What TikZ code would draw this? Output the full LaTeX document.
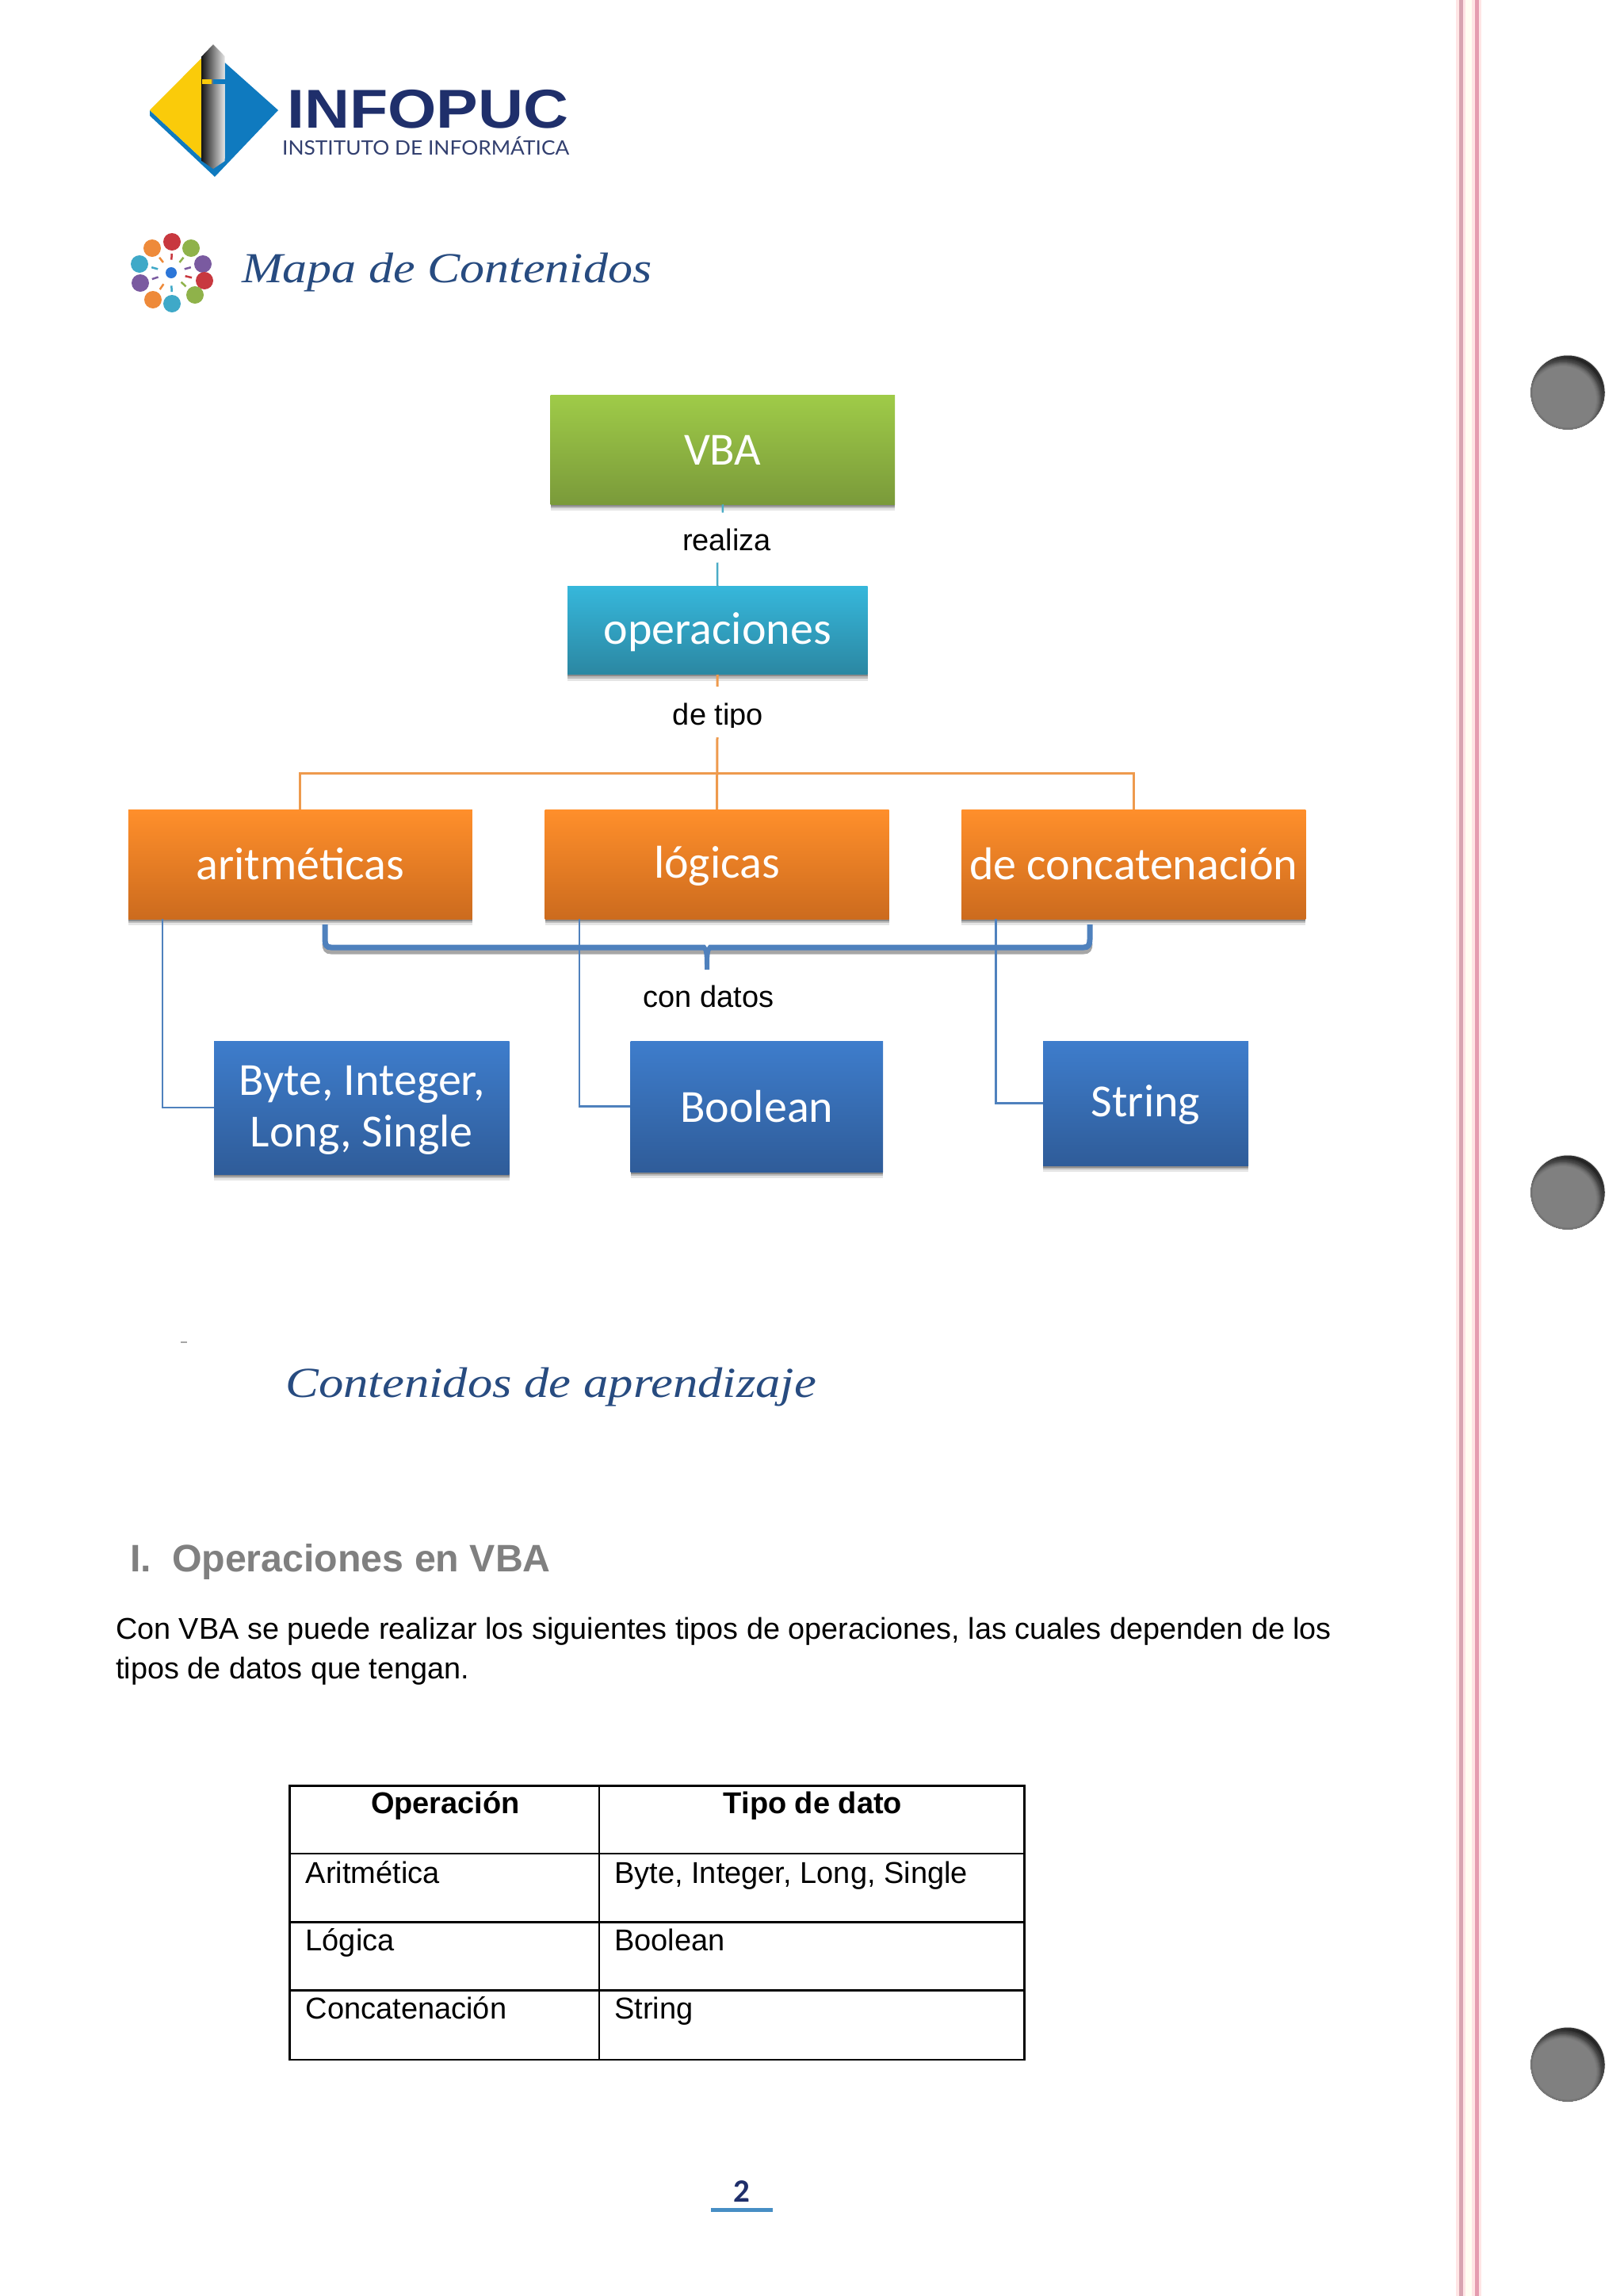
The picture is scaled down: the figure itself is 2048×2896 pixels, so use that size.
\documentclass[tikz,border=0pt]{standalone}
\usepackage{fontspec}
\usepackage{graphicx}
\setmainfont{Liberation Sans}
\newfontfamily\calib{Carlito}
\newfontfamily\lato{Lato}
\newfontfamily\titlef{Liberation Serif}
\newcommand{\fs}[1]{\fontsize{#1}{#1}\selectfont}
\newcommand{\fitw}[2]{\resizebox{#1}{\height}{#2}}
\newcommand{\bt}[1]{\rule{0pt}{44pt}#1\rule[-5pt]{0pt}{5pt}}
\definecolor{titleblue}{HTML}{274B80}
\definecolor{logonavy}{HTML}{1F2F6B}
\definecolor{logoblue}{HTML}{0F7ABF}
\definecolor{logoyellow}{HTML}{FACB0A}
\definecolor{lineblue}{HTML}{4F81BD}
\definecolor{lineorange}{HTML}{EE9A4D}
\definecolor{lineteal}{HTML}{4BACC6}
\definecolor{marginA}{HTML}{D8A4B0}
\definecolor{marginB}{HTML}{E59DB0}
\definecolor{VBAtop}{HTML}{9FCB48}
\definecolor{VBAbot}{HTML}{7A9A3A}
\definecolor{CYtop}{HTML}{36B7DB}
\definecolor{CYbot}{HTML}{2B87A2}
\definecolor{ORtop}{HTML}{FF8F2B}
\definecolor{ORmid}{HTML}{E88024}
\definecolor{ORbot}{HTML}{CC6B1E}
\definecolor{BLtop}{HTML}{3E7DCC}
\definecolor{BLbot}{HTML}{2F5C99}
\definecolor{icred}{HTML}{C8383F}
\definecolor{icgreen}{HTML}{8FB24A}
\definecolor{icviolet}{HTML}{7A5AA0}
\definecolor{iccyan}{HTML}{3FA9C8}
\definecolor{icorange}{HTML}{EE8A3A}
\newcommand{\holepunch}[2]{%
  \fill[gray!45,opacity=.5] (#1,#2) circle[radius=47.5];
  \begin{scope}
    \clip (#1,#2) circle[radius=46.5];
    \foreach \r/\c in {60/88,54/84,52/78,50/73,48/68,47/64,46/60,45/57,44/54,43/52,42/50}{
      \fill[black!\c!white] (#1-6,#2+9) circle[radius=\r];
    }
    \draw[black!65,opacity=.25,line width=2pt] (#1,#2) circle[radius=45.5];
  \end{scope}
}
\tikzset{
  softshadow/.style={
    preaction={fill=black,opacity=.10,transform canvas={yshift=-8pt}},
    preaction={fill=black,opacity=.18,transform canvas={yshift=-5pt}},
    preaction={fill=black,opacity=.25,transform canvas={yshift=-2.5pt}}},
  boxbase/.style={rectangle,inner sep=0pt,text=white,align=center,softshadow,
    font=\calib\fontsize{58}{65}\selectfont},
  greenbox/.style={boxbase,top color=VBAtop,bottom color=VBAbot},
  cyanbox/.style={boxbase,top color=CYtop,bottom color=CYbot},
  orangebox/.style={boxbase,top color=ORtop,middle color=ORmid,bottom color=ORbot,
    minimum width=434pt,minimum height=138pt},
  bluebox/.style={boxbase,top color=BLtop,bottom color=BLbot},
  linklabel/.style={inner sep=0pt,font=\fs{38},text=black,anchor=base},
  celltext/.style={inner sep=0pt,font=\fs{38},text=black,anchor=base west},
  bodytext/.style={inner sep=0pt,font=\fs{37.8},text=black,anchor=base west},
  cellhead/.style={inner sep=0pt,font=\fs{38}\bfseries,text=black,anchor=base},
  titletext/.style={inner sep=0pt,anchor=base west,text=titleblue,font=\titlef\itshape\fs{54}},
}
\begin{document}
\begin{tikzpicture}[x=1pt,y=-1pt]
\useasboundingbox (0,0) rectangle (2048,2896);
\fill[white] (0,0) rectangle (2048,2896);

% notebook margin lines
\fill[red!10] (1837,0) rectangle (1849,2896);
\fill[red!10] (1857,0) rectangle (1869,2896);
\fill[yellow!5] (1849,0) rectangle (1857,2896);
\fill[marginA] (1840.5,0) rectangle (1845.5,2896);
\fill[marginB] (1860.5,0) rectangle (1865.5,2896);
\holepunch{1978}{495}
\holepunch{1978}{1504}
\holepunch{1978}{2604}

% logo
\fill[logoblue] (283.7,79) -- (351,139) -- (271,223) -- (189,146) -- (189,139) -- (254.6,200) -- (283.7,200) -- cycle;
\fill[logoyellow] (189,139) -- (254.6,73) -- (254.6,200) -- cycle;
\shade[left color=black!90,middle color=gray!45,right color=gray!20]
  (254.6,71) -- (269,56) -- (283.7,71) -- (283.7,203) -- (269,213) -- (254.6,203) -- cycle;
\fill[logoyellow] (254.6,100) rectangle (267,106);
\fill[logoblue] (269,100) rectangle (284.5,106);
\node[inner sep=0pt,anchor=base west,text=logonavy,font=\bfseries\fs{69}] (logoname) at (362,161)
  {\fitw{355pt}{INFOPUC}};
\node[inner sep=0pt,anchor=base west,text=logonavy!80!gray,font=\lato\fs{25}] (logosub) at (356,195)
  {\fitw{362pt}{INSTITUTO DE INFORMÁTICA}};

% flower icon
\foreach \x/\y/\c in {217/305/icred,241/313/icgreen,256/333/icviolet,258/354/icred,246/372/icgreen,217/383/iccyan,193/378/icorange,177/357/icviolet,176/333/iccyan,192/313/icorange}{
  \fill[\c] (\x,\y) circle[radius=11];
  \draw[\c,line width=2.5pt] ({216+(\x-216)*.42},{344+(\y-344)*.42}) -- ({216+(\x-216)*.62},{344+(\y-344)*.62});
}
\fill[iccyan!70!blue] (216,344) circle[radius=7];

\node[titletext] (maptitle) at (305,356) {\fitw{517pt}{Mapa de Contenidos}};

% concept map
\node[greenbox,minimum width=434.5pt,minimum height=137.5pt] (vba) at (911.75,567.3) {\bt{VBA}};
\node[cyanbox,minimum width=378.5pt,minimum height=110.7pt] (ope) at (905.25,795.3) {\bt{operaciones}};
\node[orangebox] (ari) at (378.75,1090) {\bt{aritméticas}};
\node[orangebox] (lo) at (904.5,1090) {\bt{lógicas}};
\node[orangebox] (con) at (1430.25,1090) {\bt{de concatenación}};
\node[bluebox,minimum width=372.5pt,minimum height=168pt] (byte) at (456.25,1397) {\rule{0pt}{44pt}Byte, Integer,\\Long, Single\rule[-5pt]{0pt}{5pt}};
\node[bluebox,minimum width=318.5pt,minimum height=165pt] (bool) at (954.75,1395.5) {\bt{Boolean}};
\node[bluebox,minimum width=259pt,minimum height=157pt] (str) at (1445.5,1391.5) {\bt{String}};

\node[linklabel] (lrealiza) at (917,694) {realiza};
\begin{scope}
  \clip (800,880) rectangle (1000,917);
  \node[linklabel] (ldetipo) at (906,914.5) {de tipo};
\end{scope}
\node[linklabel] (lcondatos) at (894,1270) {con datos};

\coordinate (r1) at (912,646.5);
\coordinate (r2) at (905,709.5);
\coordinate (t0) at (905,866);
\coordinate (t1) at (905,930);
\coordinate (hub) at (905,975);

\draw[lineteal,line width=2.5pt] (vba.south) -- (r1);
\draw[lineteal,line width=2.5pt] (r2) -- (ope.north);
\draw[lineorange,line width=3pt] (ope.south) -- (t0);
\draw[lineorange,line width=3pt] (t1) -- (lo.north);
\draw[lineorange,line width=3pt] (ari.north) |- (hub) -| (con.north);

% brace
\begin{scope}[line width=7pt,line cap=butt]
\draw[gray!70,yshift=-5pt] (410,1185) .. controls (410,1192) and (412,1195) .. (418,1195) -- (1367,1195) .. controls (1373,1195) and (1375,1192) .. (1375,1185);
\draw[lineblue] (410,1166) -- (410,1185) .. controls (410,1192) and (412,1195) .. (418,1195) -- (1367,1195) .. controls (1373,1195) and (1375,1192) .. (1375,1185) -- (1375,1166);
\end{scope}
\fill[lineblue] (884,1195) .. controls (889,1197) and (889,1205) .. (889,1223) -- (895,1223) .. controls (895,1205) and (895,1197) .. (900,1195) -- cycle;
\fill[white] (889,1190.5) -- (895,1190.5) -- (892,1195) -- cycle;

\draw[lineblue,line width=2.5pt] ([xshift=-174pt]ari.south) |- (byte.west);
\draw[lineblue,line width=2.5pt] ([xshift=-173.5pt]lo.south) |- (bool.west);
\draw[lineblue,line width=2.5pt] ([xshift=-174pt]con.south) |- (str.west);

% lower text
\fill[gray!70] (228,1692) rectangle (236,1694);
\node[titletext] (conttitle) at (360,1762) {\fitw{670pt}{Contenidos de aprendizaje}};
\node[inner sep=0pt,anchor=base west,text=black!50,font=\bfseries\fs{48.3}] (heading) at (164,1982)
  {I.\hspace{26pt}Operaciones en VBA};
\node[bodytext] (body1) at (146,2067) {Con VBA se puede realizar los siguientes tipos de operaciones, las cuales dependen de los};
\node[bodytext] (body2) at (146,2117) {tipos de datos que tengan.};

% table
\draw[black,line width=2.5pt] (365.5,2252.5) rectangle (1292.5,2598);
\draw[black,line width=2.5pt] (756,2252.5) -- (756,2598);
\foreach \yy in {2338,2424.5,2510.5}{\draw[black,line width=2.5pt] (365.5,\yy) -- (1292.5,\yy);}
\node[cellhead] (th1) at (562,2287) {Operación};
\node[cellhead] (th2) at (1025.5,2287) {Tipo de dato};
\node[celltext] (c11) at (385.5,2375) {Aritmética};
\node[celltext] (c12) at (775,2375) {Byte, Integer, Long, Single};
\node[celltext] (c21) at (385.5,2460.5) {Lógica};
\node[celltext] (c22) at (775,2460.5) {Boolean};
\node[celltext] (c31) at (385.5,2546) {Concatenación};
\node[celltext] (c32) at (775,2546) {String};

% page number
\node[inner sep=0pt,anchor=base,text=logonavy,font=\calib\bfseries\fs{41}] (pagenum) at (935.7,2777) {2};
\fill[lineblue!90!cyan] (897,2784.5) rectangle (974.6,2789.5);
\end{tikzpicture}
\end{document}
